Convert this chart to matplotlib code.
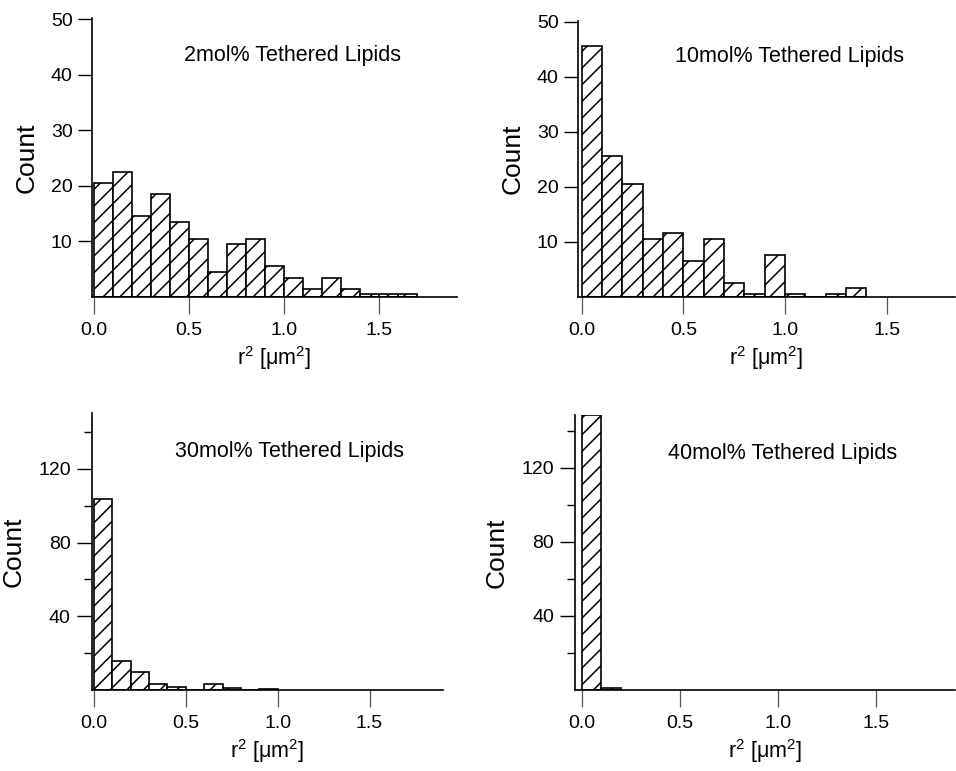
import numpy as np
import matplotlib
matplotlib.use('Agg')
import matplotlib.pyplot as plt
from matplotlib.ticker import FixedLocator

plt.rcParams['font.family'] = ['Liberation Sans', 'DejaVu Sans']
plt.rcParams['mathtext.fontset'] = 'custom'
plt.rcParams['mathtext.rm'] = 'Liberation Sans'
plt.rcParams['mathtext.it'] = 'Liberation Sans'
plt.rcParams['hatch.linewidth'] = 1.1

# histogram data, bin width 0.1 um^2
bin_width = 0.1
counts_2 = [20.5, 22.5, 14.5, 18.5, 13.5, 10.5, 4.5, 9.5, 10.5, 5.5, 3.5, 1.5, 3.5, 1.5, 0.5, 0.5, 0.5]
counts_10 = [45.5, 25.5, 20.5, 10.5, 11.5, 6.5, 10.5, 2.5, 0.5, 7.5, 0.5, 0, 0.5, 1.5]
counts_30 = [103.5, 15.5, 9.5, 3.5, 1.5, 0, 3.5, 0.8, 0, 0.5]
counts_40 = [148.5, 0.8]
labels = ['2mol% Tethered Lipids', '10mol% Tethered Lipids',
          '30mol% Tethered Lipids', '40mol% Tethered Lipids']
x_ticks = [0.0, 0.5, 1.0, 1.5]

fig = plt.figure(figsize=(9.56, 7.71), dpi=100)

panels = [
    # counts, axes rect, xlim, ylim, label pos
    (counts_2,  [0.0962, 0.6148, 0.3818, 0.3619], (-0.01, 1.91), (0, 50.2), (0.55, 0.865)),
    (counts_10, [0.6046, 0.6152, 0.3944, 0.3576], (-0.018, 1.836), (0, 50.1), (0.56, 0.87)),
    (counts_30, [0.0959, 0.1051, 0.3675, 0.3593], (-0.0125, 1.90), (0, 150.3), (0.562, 0.86)),
    (counts_40, [0.6015, 0.1051, 0.3975, 0.3567], (-0.034, 1.905), (0, 148.6), (0.547, 0.86)),
]

for i, (counts, rect, xl, yl, tpos) in enumerate(panels):
    ax = fig.add_axes(rect)
    edges = np.arange(len(counts)) * bin_width
    ax.bar(edges, counts, width=bin_width, align='edge', color='white',
           edgecolor='black', linewidth=1.2, hatch='//')
    ax.set_xlim(*xl)
    ax.set_ylim(*yl)
    ax.spines['top'].set_visible(False)
    ax.spines['right'].set_visible(False)
    ax.spines['left'].set_linewidth(1.2)
    ax.spines['bottom'].set_linewidth(1.2)

    ax.set_xticks(x_ticks)
    ax.set_xticklabels(['%.1f' % v for v in x_ticks])
    ax.tick_params(axis='x', direction='out', length=12, width=0.9, color='#555555',
                   labelsize=14, pad=6)
    if i < 2:
        ax.set_yticks([10, 20, 30, 40, 50])
        ax.tick_params(axis='y', direction='out', length=10, width=1.0, labelsize=14, pad=4)
    else:
        ax.set_yticks([40, 80, 120])
        ax.yaxis.set_minor_locator(FixedLocator([20, 60, 100, 140]))
        ax.tick_params(axis='y', which='major', direction='out', length=11,
                       width=1.0, labelsize=14, pad=4)
        ax.tick_params(axis='y', which='minor', direction='out', length=6, width=1.0)

    ax.set_ylabel('Count', fontsize=19, labelpad=9)
    ax.set_xlabel(r'r$^2$ [$\mu$m$^2$]', fontsize=15.5, labelpad=4)
    ax.text(tpos[0], tpos[1], labels[i], transform=ax.transAxes, ha='center',
            va='center', fontsize=15.5)

plt.savefig('out.png', dpi=100)
